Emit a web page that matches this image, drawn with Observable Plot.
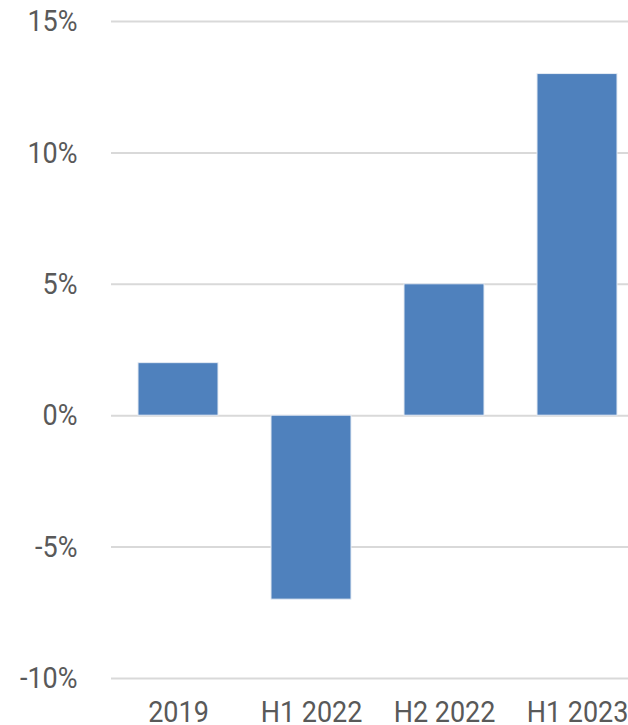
<!DOCTYPE html>
<html>
<head>
<meta charset="utf-8">
<script src="https://cdn.jsdelivr.net/npm/d3@7"></script>
<script src="https://cdn.jsdelivr.net/npm/@observablehq/plot@0.6"></script>
<style>
  html, body { margin: 0; padding: 0; background: #fff; overflow: hidden; }
  #chart svg { display: block; max-width: none; }
</style>
</head>
<body>
<div id="chart"></div>
<script>
const categories = ["2019", "H1 2022", "H2 2022", "H1 2023"];
const values = [2, -7, 5, 13];
const yTicks = [-10, -5, 0, 5, 10, 15];

const data = categories.map((c, i) => ({category: c, value: values[i]}));

const chart = Plot.plot({
  width: 628,
  height: 725,
  marginLeft: 111,
  marginRight: -15,
  marginTop: 21,
  marginBottom: 47,
  style: {fontFamily: "Roboto", fontSize: "30px", color: "#595959", background: "#fff", overflow: "visible"},
  x: {domain: categories, paddingInner: 0.4, paddingOuter: 0.2, label: null, tickSize: 0, tickPadding: 22},
  y: {domain: [-10, 15], ticks: yTicks, tickFormat: d => d + "%", label: null, tickSize: 0, tickPadding: 34},
  marks: [
    Plot.ruleY(yTicks, {stroke: "#d9d9d9", strokeWidth: 2}),
    Plot.barY(data, {x: "category", y: "value", fill: "#4f81bd", stroke: "#e6ecf4", strokeWidth: 1})
  ]
});
document.getElementById("chart").appendChild(chart);

// condense tick labels horizontally (approximating a condensed face)
chart.querySelectorAll("g[aria-label$='tick label'] text").forEach(t => {
  const x = t.getAttribute("x"), y = t.getAttribute("y");
  let tr = t.getAttribute("transform") || "";
  if (x !== null || (y !== null && !/em$/.test(y))) {
    tr = `translate(${x || 0},${(y !== null && !/em$/.test(y)) ? y : 0}) ` + tr;
    t.removeAttribute("x");
    if (y !== null && !/em$/.test(y)) t.removeAttribute("y");
  }
  t.setAttribute("transform", tr + " scale(0.9,1)");
  t.setAttribute("fill", "#595959");
});
</script>
</body>
</html>
